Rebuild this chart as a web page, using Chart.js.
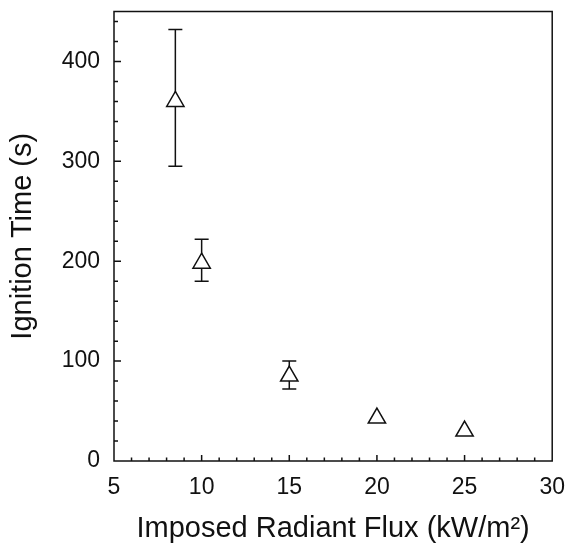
<!DOCTYPE html>
<html>
<head>
<meta charset="utf-8">
<script src="https://cdn.jsdelivr.net/npm/chart.js@4"></script>
<style>
  html, body { margin: 0; padding: 0; background: #fff; }
  #wrap { width: 570px; height: 556px; }
</style>
</head>
<body>
<div id="wrap"><canvas id="ignChart" width="570" height="556"></canvas></div>
<script>
// Ignition time vs imposed radiant flux, with error bars

const flux = [8.5, 10, 15, 20, 25];
const ignTime = [360, 198, 85, 43, 30];
const errHigh = [432, 222, 100, null, null];
const errLow = [295, 180, 72, null, null];
const xTicks = [5, 10, 15, 20, 25, 30];
const yTicks = [0, 100, 200, 300, 400];

const points = flux.map((x, i) => ({ x: x, y: ignTime[i] }));

// Error bars, plot frame and inward tick marks
const framePlugin = {
  id: 'frame',
  beforeDatasetsDraw(chart) {
    const ctx = chart.ctx;
    const xs = chart.scales.x;
    const ys = chart.scales.y;
    ctx.save();
    ctx.strokeStyle = '#111';
    ctx.lineWidth = 1.5;
    flux.forEach((x, i) => {
      if (errHigh[i] == null) return;
      const px = xs.getPixelForValue(x);
      const top = ys.getPixelForValue(errHigh[i]);
      const bot = ys.getPixelForValue(errLow[i]);
      ctx.beginPath();
      ctx.moveTo(px, top); ctx.lineTo(px, bot);
      ctx.moveTo(px - 7, top); ctx.lineTo(px + 7, top);
      ctx.moveTo(px - 7, bot); ctx.lineTo(px + 7, bot);
      ctx.stroke();
    });
    ctx.restore();
  },
  afterDraw(chart) {
    const ctx = chart.ctx;
    const a = chart.chartArea;
    const xs = chart.scales.x;
    const ys = chart.scales.y;
    ctx.save();
    ctx.strokeStyle = '#111';
    ctx.lineWidth = 1.5;
    ctx.strokeRect(a.left, a.top, a.right - a.left, a.bottom - a.top);
    ctx.beginPath();
    // x ticks every 1, major every 5
    for (let v = 6; v < 30; v++) {
      const px = xs.getPixelForValue(v);
      const len = v % 5 === 0 ? 6 : 3.5;
      ctx.moveTo(px, a.bottom); ctx.lineTo(px, a.bottom - len);
    }
    // y ticks every 20, major every 100
    for (let v = 20; v < 450; v += 20) {
      const py = ys.getPixelForValue(v);
      const len = v % 100 === 0 ? 7 : 4;
      ctx.moveTo(a.left, py); ctx.lineTo(a.left + len, py);
    }
    ctx.stroke();
    ctx.restore();
  }
};

new Chart(document.getElementById('ignChart'), {
  type: 'scatter',
  data: {
    datasets: [{
      label: 'Ignition time',
      data: points,
      pointStyle: 'triangle',
      pointRadius: 10,
      pointHoverRadius: 10,
      backgroundColor: '#fff',
      borderColor: '#111',
      borderWidth: 1.5
    }]
  },
  options: {
    responsive: false,
    animation: false,
    layout: { padding: { top: 11, right: 11, bottom: 0, left: 0 } },
    plugins: {
      legend: { display: false },
      tooltip: { enabled: false }
    },
    scales: {
      x: {
        type: 'linear',
        min: 5,
        max: 30,
        grid: { display: false },
        border: { display: false },
        afterBuildTicks: s => { s.ticks = xTicks.map(v => ({ value: v })); },
        afterFit: s => { s.height = 95; },
        ticks: {
          padding: 5,
          color: '#111',
          font: { family: 'Liberation Sans', size: 23 }
        },
        title: {
          display: true,
          text: 'Imposed Radiant Flux (kW/m²)',
          color: '#111',
          font: { family: 'Liberation Sans', size: 29 },
          padding: { top: 0, bottom: 10 }
        }
      },
      y: {
        min: 0,
        max: 450,
        grid: { display: false },
        border: { display: false },
        afterBuildTicks: s => { s.ticks = yTicks.map(v => ({ value: v })); },
        afterFit: s => { s.width = 114; s.paddingTop = 0; s.paddingBottom = 0; },
        ticks: {
          padding: 6,
          color: '#111',
          font: { family: 'Liberation Sans', size: 23 }
        },
        title: {
          display: true,
          text: 'Ignition Time (s)',
          color: '#111',
          font: { family: 'Liberation Sans', size: 29 },
          padding: { top: 6, bottom: 0 }
        }
      }
    }
  },
  plugins: [framePlugin]
});
</script>
</body>
</html>
